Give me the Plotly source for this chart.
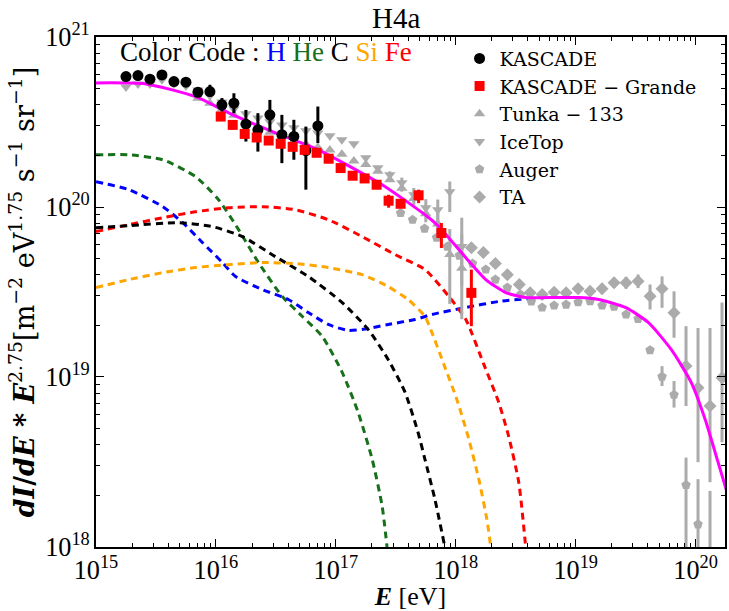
import numpy as np
import plotly.graph_objects as go

# ---- H4a model components: log10(E/eV) and log10(E^2.75 dI/dE) ----
h_loge = [15.000, 15.274, 15.557, 15.723, 15.889, 16.055, 16.164, 16.388, 16.604, 16.771,
          16.937, 17.103, 17.269, 17.436, 17.660, 17.801, 18.084, 18.358, 18.691]
h_logf = [20.149, 20.102, 20.002, 19.908, 19.790, 19.673, 19.591, 19.514, 19.456, 19.379,
          19.309, 19.274, 19.285, 19.309, 19.338, 19.368, 19.409, 19.444, 19.467]

he_loge = [15.000, 15.274, 15.557, 15.831, 16.022, 16.189, 16.355, 16.554, 16.721, 16.887,
           17.053, 17.186, 17.303, 17.386, 17.427]
he_logf = [20.307, 20.307, 20.278, 20.178, 20.043, 19.867, 19.673, 19.473, 19.356, 19.238,
           19.027, 18.792, 18.516, 18.240, 18.000]

c_loge = [15.000, 15.274, 15.690, 15.973, 16.222, 16.496, 16.771, 17.053, 17.269, 17.436,
          17.577, 17.685, 17.743, 17.826, 17.909]
c_logf = [19.878, 19.890, 19.908, 19.884, 19.826, 19.708, 19.591, 19.438, 19.280, 19.103,
          18.910, 18.675, 18.516, 18.281, 18.000]

si_loge = [15.000, 15.274, 15.557, 15.831, 16.106, 16.388, 16.663, 16.937, 17.219, 17.436,
           17.602, 17.743, 17.801, 17.901, 18.009, 18.109, 18.192, 18.259, 18.292]
si_logf = [19.526, 19.573, 19.614, 19.644, 19.661, 19.673, 19.667, 19.644, 19.602, 19.532,
           19.456, 19.356, 19.262, 19.074, 18.868, 18.634, 18.399, 18.164, 18.000]

fe_loge = [15.000, 15.274, 15.557, 15.831, 16.106, 16.388, 16.663, 16.937, 17.219, 17.494,
           17.743, 17.943, 18.084, 18.234, 18.358, 18.441, 18.525, 18.583]
fe_logf = [19.855, 19.896, 19.937, 19.972, 19.996, 20.002, 19.984, 19.925, 19.826, 19.720,
           19.632, 19.473, 19.338, 19.074, 18.851, 18.651, 18.381, 18.000]

total_loge = [15.000, 15.416, 15.831, 16.106, 16.496, 16.837, 17.386, 17.776, 17.860, 18.084,
              18.250, 18.416, 18.583, 18.774, 19.023, 19.190, 19.414, 19.605, 19.796, 19.963,
              20.079, 20.187, 20.262]
total_logf = [20.730, 20.724, 20.649, 20.554, 20.436, 20.342, 20.131, 19.937, 19.884, 19.702,
              19.573, 19.497, 19.467, 19.467, 19.467, 19.456, 19.409, 19.321, 19.162, 18.968,
              18.751, 18.499, 18.322]

# ---- measurements: log10 values, errors in dex (up, down) ----
kascade_loge = [15.25, 15.35, 15.45, 15.55, 15.65, 15.75, 15.85, 15.95, 16.05, 16.15,
                16.25, 16.35, 16.45, 16.55, 16.65, 16.75, 16.85]
kascade_logf = [20.767, 20.773, 20.752, 20.777, 20.738, 20.734, 20.675, 20.679, 20.601, 20.611,
                20.487, 20.454, 20.542, 20.425, 20.415, 20.332, 20.477]
kascade_up = [0.015, 0.015, 0.015, 0.015, 0.015, 0.015, 0.02, 0.04, 0.04, 0.058,
              0.084, 0.098, 0.088, 0.117, 0.098, 0.141, 0.114]
kascade_dn = [0.015, 0.015, 0.015, 0.015, 0.015, 0.015, 0.02, 0.03, 0.04, 0.059,
              0.102, 0.128, 0.098, 0.167, 0.137, 0.230, 0.101]

grande_loge = [16.04, 16.14, 16.24, 16.34, 16.44, 16.54, 16.64, 16.74, 16.84, 16.94,
               17.04, 17.14, 17.24, 17.34, 17.44, 17.54, 17.69, 17.88, 18.13]
grande_logf = [20.532, 20.483, 20.430, 20.409, 20.391, 20.372, 20.354, 20.336, 20.319, 20.284,
               20.229, 20.184, 20.168, 20.131, 20.037, 20.019, 20.069, 19.847, 19.495]
grande_up = [0.01, 0.01, 0.01, 0.01, 0.01, 0.01, 0.01, 0.01, 0.01, 0.01,
             0.01, 0.01, 0.01, 0.015, 0.035, 0.015, 0.033, 0.059, 0.137]
grande_dn = [0.01, 0.01, 0.01, 0.01, 0.01, 0.01, 0.01, 0.01, 0.01, 0.01,
             0.01, 0.01, 0.01, 0.015, 0.041, 0.015, 0.046, 0.088, 0.196]

tunka_loge = [15.85, 15.95, 16.05, 16.15, 16.25, 16.35, 16.45, 16.55, 16.65, 16.75,
              16.85, 16.95, 17.05, 17.15, 17.25, 17.35, 17.45, 17.55, 17.65, 17.75,
              17.85, 17.95, 18.05]
tunka_logf = [20.640, 20.610, 20.575, 20.540, 20.500, 20.470, 20.440, 20.415, 20.390, 20.370,
              20.350, 20.335, 20.310, 20.270, 20.250, 20.210, 20.160, 20.110, 20.050, 19.960,
              19.900, 19.720, 19.640]
tunka_up = [0.01] * 17 + [0.02, 0.04, 0.05, 0.07, 0.15, 0.20]
tunka_dn = [0.01] * 17 + [0.02, 0.04, 0.05, 0.07, 0.29, 0.30]

icetop_loge = [15.25, 15.35, 15.45, 15.55, 15.65, 15.75, 15.85, 15.95, 16.05, 16.15,
               16.25, 16.35, 16.45, 16.55, 16.65, 16.75, 16.85, 16.95, 17.05, 17.15,
               17.25, 17.35, 17.45, 17.55, 17.65, 17.75, 17.85, 17.95, 18.05]
icetop_logf = [20.706, 20.724, 20.724, 20.748, 20.724, 20.712, 20.689, 20.654, 20.618, 20.577,
               20.548, 20.524, 20.501, 20.483, 20.466, 20.448, 20.436, 20.419, 20.395, 20.372,
               20.290, 20.231, 20.190, 20.143, 20.072, 19.996, 19.984, 20.090, 19.767]
icetop_up = [0.01] * 22 + [0.02, 0.03, 0.04, 0.05, 0.06, 0.06, 0.17]
icetop_dn = [0.01] * 22 + [0.02, 0.03, 0.04, 0.05, 0.07, 0.12, 0.23]

auger_loge = [17.54, 17.64, 17.74, 17.84, 17.93, 18.03, 18.14, 18.25, 18.33, 18.43,
              18.54, 18.63, 18.72, 18.82, 18.92, 19.02, 19.12, 19.22, 19.32, 19.42,
              19.52, 19.62, 19.72, 19.82, 19.92, 20.02, 20.12]
auger_logf = [19.965, 19.925, 19.873, 19.820, 19.767, 19.714, 19.667, 19.632, 19.573, 19.526,
              19.485, 19.444, 19.409, 19.421, 19.426, 19.440, 19.446, 19.421, 19.413, 19.368,
              19.342, 19.158, 19.002, 18.896, 18.365, 18.133, 17.850]
auger_up = [0.01] * 21 + [0.02, 0.062, 0.080, 0.161, 0.266, 0.48]
auger_dn = [0.01] * 21 + [0.02, 0.055, 0.076, 0.45, 0.45, 0.45]

ta_loge = [18.13, 18.23, 18.33, 18.43, 18.53, 18.62, 18.72, 18.82, 18.92, 19.02,
           19.12, 19.22, 19.32, 19.42, 19.52, 19.62, 19.72, 19.82, 19.92, 20.02,
           20.12, 20.22]
ta_logf = [19.761, 19.732, 19.667, 19.602, 19.544, 19.495, 19.485, 19.499, 19.495, 19.519,
           19.504, 19.519, 19.554, 19.554, 19.563, 19.475, 19.519, 19.378, 19.064, 18.937,
           18.829, 18.996]
ta_up = [0.02] * 10 + [0.025, 0.03, 0.03, 0.035, 0.04, 0.069, 0.073, 0.126, 0.235, 0.351,
                        0.459, 0.442]
ta_dn = [0.02] * 10 + [0.025, 0.03, 0.03, 0.035, 0.04, 0.078, 0.112, 0.147, 0.235, 0.438,
                        0.448, 0.380]

SERIF = "Liberation Serif"
WIDE_SERIF = "DejaVu Serif"
GRAY = "#ababab"
GREEN = "#17701a"
ORANGE = "#ffa500"


def lin(v):
    return 10 ** np.asarray(v, dtype=float)


def errs(logf, up, dn):
    f = lin(logf)
    return (lin(np.asarray(logf) + np.asarray(up)) - f,
            f - lin(np.asarray(logf) - np.asarray(dn)))


fig = go.Figure()

# dashed elemental components
for le, lf, col in [(he_loge, he_logf, GREEN), (h_loge, h_logf, "#0000ff"),
                    (fe_loge, fe_logf, "#ff0000"), (c_loge, c_logf, "#000000"),
                    (si_loge, si_logf, ORANGE)]:
    fig.add_trace(go.Scatter(x=lin(le), y=lin(lf), mode="lines", showlegend=False,
                             line=dict(color=col, width=3, dash="7px,5px", shape="spline",
                                       smoothing=0.6),
                             hoverinfo="skip"))


def data_trace(name, le, lf, up, dn, color, symbol, size, rank):
    eu, ed = errs(lf, up, dn)
    return go.Scatter(
        x=lin(le), y=lin(lf), mode="markers", name=name, legendrank=rank,
        marker=dict(color=color, symbol=symbol, size=size, line=dict(width=0)),
        error_y=dict(type="data", symmetric=False, array=eu, arrayminus=ed,
                     color=color, thickness=3, width=0),
    )


fig.add_trace(data_trace("Tunka − 133", tunka_loge, tunka_logf, tunka_up, tunka_dn,
                         GRAY, "triangle-up", 10, 3))
fig.add_trace(data_trace("IceTop", icetop_loge, icetop_logf, icetop_up, icetop_dn,
                         GRAY, "triangle-down", 10, 4))
fig.add_trace(data_trace("Auger", auger_loge, auger_logf, auger_up, auger_dn,
                         GRAY, "pentagon", 10, 5))
fig.add_trace(data_trace("TA", ta_loge, ta_logf, ta_up, ta_dn,
                         GRAY, "diamond", 10, 6))

# all-particle H4a spectrum
fig.add_trace(go.Scatter(x=lin(total_loge), y=lin(total_logf), mode="lines",
                         showlegend=False, hoverinfo="skip",
                         line=dict(color="#ff00ff", width=3, shape="spline", smoothing=0.6)))

fig.add_trace(data_trace("KASCADE", kascade_loge, kascade_logf, kascade_up, kascade_dn,
                         "#000000", "circle", 11, 1))
fig.add_trace(data_trace("KASCADE − Grande", grande_loge, grande_logf, grande_up, grande_dn,
                         "#ff0000", "square", 10, 2))

axis_common = dict(
    type="log", dtick=1, exponentformat="power", showgrid=False, zeroline=False,
    showline=True, linecolor="black", linewidth=2, mirror="allticks",
    ticks="inside", ticklen=8, tickwidth=1, tickcolor="black",
    minor=dict(ticks="inside", ticklen=4, tickwidth=1, tickcolor="black", showgrid=False),
    tickfont=dict(family=SERIF, size=21, color="black"),
)

fig.update_xaxes(**axis_common, range=[15, 20.245],
                 title=dict(text="<b><i>E</i></b> [eV]",
                            font=dict(family=SERIF, size=26, color="black"), standoff=5))
fig.update_yaxes(**axis_common, range=[17.9999, 21.0001],
                 title=dict(text="<b><i>dI</i>/<i>dE</i> * <i>E</i></b><sup>2.75</sup>"
                                 "[m<sup>−2</sup> eV<sup>1.75</sup> s<sup>−1</sup> sr<sup>−1</sup>]",
                            font=dict(family=WIDE_SERIF, size=27, color="black"), standoff=3))

# panel title above the frame
fig.add_annotation(
    xref="paper", yref="paper", x=0.477, y=1 + 36 / 511, xanchor="center", yanchor="top",
    showarrow=False, borderpad=0, text="H4a",
    font=dict(family=SERIF, size=29, color="black"),
)

fig.add_annotation(
    xref="paper", yref="paper", x=0.036, y=0.971, xanchor="left", yanchor="middle",
    showarrow=False, borderpad=0, font=dict(family=SERIF, size=27, color="black"),
    text=("Color Code : <span style='color:#0000ff'>H</span> "
          f"<span style='color:{GREEN}'>He</span> C "
          f"<span style='color:{ORANGE}'>Si</span> "
          "<span style='color:#ff0000'>Fe</span>"),
)

fig.update_layout(
    width=729, height=611,
    margin=dict(l=96, r=2, t=37, b=63),
    paper_bgcolor="white", plot_bgcolor="white",
    legend=dict(x=0.578, y=0.995, xanchor="left", yanchor="top",
                bgcolor="rgba(0,0,0,0)", borderwidth=0,
                font=dict(family=WIDE_SERIF, size=19, color="black"),
                tracegroupgap=0),
    showlegend=True,
)

fig.write_html("out.html")
